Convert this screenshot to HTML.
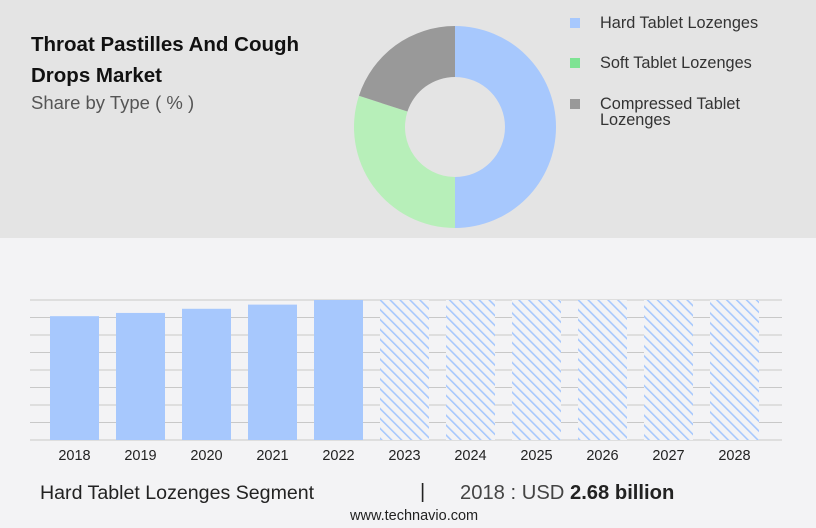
<!DOCTYPE html>
<html><head><meta charset="utf-8"><style>
body{margin:0;width:816px;height:528px;overflow:hidden;background:#f3f3f5;font-family:"Liberation Sans",sans-serif;position:relative}
#topPanel{position:absolute;left:0;top:0;width:816px;height:238px;background:#e4e4e4}
.t{position:absolute;white-space:nowrap}
</style></head><body>
<div id="topPanel"></div>
<div class="t" style="left:31px;top:29px;font-size:20.5px;font-weight:bold;line-height:31px;color:#111">Throat Pastilles And Cough<br>Drops Market</div>
<div class="t" style="left:31px;top:92px;font-size:18.5px;color:#555">Share by Type ( % )</div>
<svg id="donut" width="816" height="528" style="position:absolute;left:0;top:0"></svg>
<div>
<div class="t" style="left:570px;top:14px;font-size:16.3px;color:#333"><span style="display:inline-block;width:10px;height:10px;background:#a7c8fd;margin-right:20px"></span>Hard Tablet Lozenges</div>
<div class="t" style="left:570px;top:54px;font-size:16.3px;color:#333"><span style="display:inline-block;width:10px;height:10px;background:#7ee393;margin-right:20px"></span>Soft Tablet Lozenges</div>
<div class="t" style="left:570px;top:96px;font-size:16.3px;color:#333;line-height:16px"><span style="display:inline-block;width:10px;height:10px;background:#999;margin-right:20px"></span>Compressed Tablet<br><span style="margin-left:30px">Lozenges</span></div>
</div>
<svg id="bars" width="816" height="528" style="position:absolute;left:0;top:0">
<defs><pattern id="hatch" width="7" height="7" patternUnits="userSpaceOnUse" patternTransform="rotate(-45)"><rect width="7" height="7" fill="#f3f3f5"/><rect width="1.6" height="7" fill="#a7c8fd"/></pattern></defs>
</svg>
<div class="t" style="left:40px;top:482px;font-size:19.6px;color:#222">Hard Tablet Lozenges Segment</div>
<div class="t" style="left:420px;top:481px;font-size:20px;color:#222">|</div>
<div class="t" style="left:460px;top:482px;font-size:20.2px;color:#444">2018 : USD <b style="color:#222">2.68 billion</b></div>
<div class="t" style="left:350px;top:508px;font-size:14.5px;color:#222">www.technavio.com</div>
<script>
const NS="http://www.w3.org/2000/svg";
const shareLabels=["Hard Tablet Lozenges","Soft Tablet Lozenges","Compressed Tablet Lozenges"];
const shareValues=[50,30,20];
const shareColors=["#a7c8fd","#b7efb9","#999999"];
const years=["2018","2019","2020","2021","2022","2023","2024","2025","2026","2027","2028"];
const values=[2.68,2.75,2.84,2.93,3.03,3.03,3.03,3.03,3.03,3.03,3.03];
const forecast=[false,false,false,false,false,true,true,true,true,true,true];
const yMax=3.03;
const dn=document.getElementById('donut');const cx=455,cy=127,R=101,r=50;
let tot=shareValues.reduce((a,b)=>a+b,0),acc=0;
function pt(a,rad){return [cx+rad*Math.sin(a),cy-rad*Math.cos(a)];}
shareValues.forEach((v,i)=>{const a0=acc/tot*2*Math.PI;acc+=v;const a1=acc/tot*2*Math.PI;const L=(a1-a0)>Math.PI?1:0;
const [xa,ya]=pt(a0,R),[xb,yb]=pt(a1,R),[xc,yc]=pt(a1,r),[xd,yd]=pt(a0,r);
const p=document.createElementNS(NS,'path');
p.setAttribute('d',`M${xa},${ya}A${R},${R} 0 ${L} 1 ${xb},${yb}L${xc},${yc}A${r},${r} 0 ${L} 0 ${xd},${yd}Z`);
p.setAttribute('fill',shareColors[i]);


dn.appendChild(p);});
const bs=document.getElementById('bars');const base=440,yTop=300,gx0=30,gx1=782;
const ys=v=>base-v/yMax*(base-yTop);
for(let k=0;k<=8;k++){const y=yTop+k*(base-yTop)/8;const l=document.createElementNS(NS,'line');
l.setAttribute('x1',gx0);l.setAttribute('x2',gx1);l.setAttribute('y1',y);l.setAttribute('y2',y);l.setAttribute('stroke','#c8c8c8');l.setAttribute('stroke-width','1');


bs.appendChild(l);}
years.forEach((yr,i)=>{const x=50+i*66;const rc=document.createElementNS(NS,'rect');
rc.setAttribute('x',x);rc.setAttribute('width',49);rc.setAttribute('y',ys(values[i]));rc.setAttribute('height',base-ys(values[i]));
rc.setAttribute('fill',forecast[i]?'url(#hatch)':'#a7c8fd');


bs.appendChild(rc);
const t=document.createElementNS(NS,'text');t.setAttribute('x',x+24.5);t.setAttribute('y',460);t.setAttribute('text-anchor','middle');t.setAttribute('font-size','14.5');t.setAttribute('fill','#222');t.setAttribute('font-family','Liberation Sans, sans-serif');t.textContent=yr;


bs.appendChild(t);});
</script>
</body></html>
